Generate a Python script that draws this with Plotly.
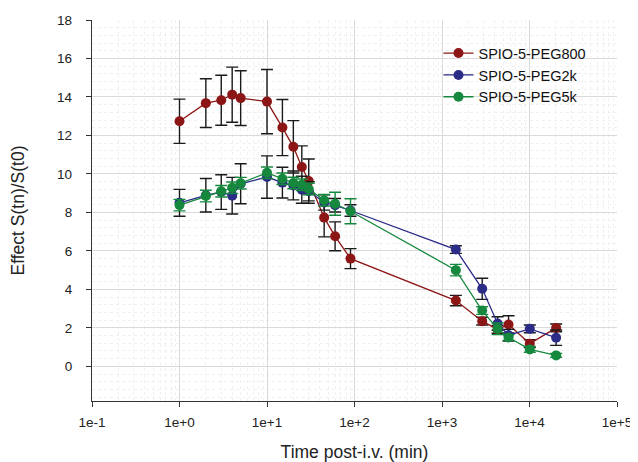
import plotly.graph_objects as go

# Time after injection (min)
time_min = [1, 2, 3, 4, 5, 10, 15, 20, 25, 30, 45, 60, 90, 1440, 2880, 4320, 5760, 10080, 20160]

peg800 = [12.74, 13.68, 13.83, 14.12, 13.94, 13.76, 12.41, 11.41, 10.36, 9.63, 7.73, 6.76, 5.6, 3.42, 2.35, 1.92, 2.18, 1.18, 2.0]
peg800_err = [1.15, 1.27, 1.3, 1.43, 1.42, 1.67, 1.46, 1.36, 1.1, 1.15, 1.0, 0.75, 0.52, 0.27, 0.2, 0.2, 0.45, 0.2, 0.2]

peg2k = [8.5, 8.89, 9.06, 8.87, 9.49, 9.84, 9.55, 9.4, 9.18, 9.1, 8.52, 8.37, 8.1, 6.07, 4.03, 2.23, 1.62, 1.95, 1.49]
peg2k_err = [0.7, 0.87, 0.9, 0.95, 1.04, 1.1, 0.8, 0.75, 0.7, 0.5, 0.4, 0.35, 0.3, 0.2, 0.55, 0.35, 0.3, 0.2, 0.4]

peg5k = [8.38, 8.85, 9.1, 9.28, 9.52, 10.06, 9.75, 9.53, 9.44, 9.22, 8.63, 8.45, 8.06, 5.0, 2.9, 1.95, 1.5, 0.88, 0.57]
peg5k_err = [0.3, 0.3, 0.3, 0.3, 0.3, 0.3, 0.3, 0.3, 0.3, 0.3, 0.3, 0.6, 0.65, 0.3, 0.2, 0.3, 0.15, 0.15, 0.1]

series = [
    ("SPIO-5-PEG800", peg800, peg800_err, "#8c1616", "#1a1a1a"),
    ("SPIO-5-PEG2k", peg2k, peg2k_err, "#2b2b88", "#1a1a1a"),
    ("SPIO-5-PEG5k", peg5k, peg5k_err, "#16883e", "#16883e"),
]

x_ticks = [0.1, 1, 10, 100, 1000, 10000, 100000]
x_labels = ["1e-1", "1e+0", "1e+1", "1e+2", "1e+3", "1e+4", "1e+5"]

fig = go.Figure()
for name, values, errors, color, err_color in series:
    fig.add_trace(go.Scatter(
        x=time_min,
        y=values,
        name=name,
        mode="lines+markers",
        line=dict(color=color, width=1.3),
        marker=dict(color=color, size=10),
        error_y=dict(type="data", array=errors, color=err_color, thickness=1.4, width=6),
    ))

# the page body has an 8px margin, so the figure is a bit smaller than the window
fig.update_layout(
    width=630,
    height=454,
    margin=dict(l=84, r=21, t=12, b=61),
    paper_bgcolor="white",
    plot_bgcolor="white",
    font=dict(family="Liberation Sans, Arial, sans-serif", size=13.5, color="#222222"),
    showlegend=True,
    legend=dict(
        x=0.66, y=0.955, xanchor="left", yanchor="top",
        font=dict(size=14.5, color="#111111"),
        bgcolor="rgba(0,0,0,0)",
        itemwidth=30,
    ),
)
fig.update_xaxes(
    type="log",
    range=[-1, 5],
    tickvals=x_ticks,
    ticktext=x_labels,
    ticks="outside", ticklen=5, tickwidth=1.2, tickcolor="#333333",
    showline=True, linecolor="#333333", linewidth=1.3,
    showgrid=True, gridcolor="#dadada", gridwidth=1,
    minor=dict(dtick="D1", showgrid=True, gridcolor="#f0f0f0", griddash="dot", ticks=""),
    zeroline=False,
    automargin=False,
    ticklabelstandoff=4,
    title=dict(text="Time post-i.v. (min)", font=dict(size=17.5), standoff=16),
)
fig.update_yaxes(
    range=[-1.8, 18],
    tickvals=[0, 2, 4, 6, 8, 10, 12, 14, 16, 18],
    ticks="outside", ticklen=5, tickwidth=1.2, tickcolor="#333333",
    showline=True, linecolor="#333333", linewidth=1.3,
    showgrid=True, gridcolor="#dadada", gridwidth=1,
    minor=dict(dtick=0.4, showgrid=True, gridcolor="#f0f0f0", griddash="dot", ticks=""),
    zeroline=False,
    automargin=False,
    ticklabelstandoff=11,
    title=dict(text="Effect S(tn)/S(t0)", font=dict(size=17.5), standoff=28),
)

fig.write_html("out.html")
